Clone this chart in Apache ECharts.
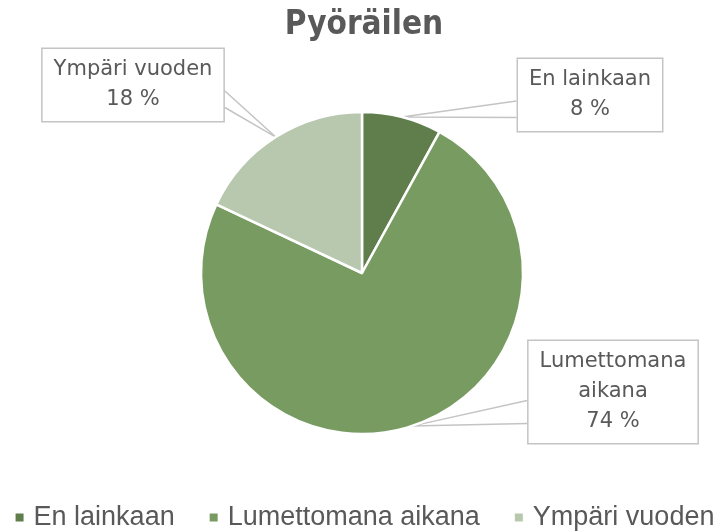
<!DOCTYPE html>
<html>
<head>
<meta charset="utf-8">
<script src="https://cdn.jsdelivr.net/npm/echarts@6/dist/echarts.min.js"></script>
<style>
  html, body { margin: 0; padding: 0; background: #fff; }
  #chart { width: 728px; height: 532px; }
</style>
</head>
<body>
<div id="chart"></div>
<script>
const categories = ["En lainkaan", "Lumettomana aikana", "Ympäri vuoden"];
const labelNames = ["En lainkaan", "Lumettomana\naikana", "Ympäri vuoden"];
const shares = [8, 74, 18];
const colors = ["#5f7e4b", "#789b62", "#b8c8ae"];

// where each callout box sits (box centre, px)
const calloutAt = [[590, 95], [613, 392], [133, 85]];

const chart = echarts.init(document.getElementById("chart"));

function calloutLayout(params) {
  const i = params.dataIndex;
  const [cx, cy] = calloutAt[i];
  const w = params.labelRect.width;
  const h = params.labelRect.height;
  const out = { x: cx, y: cy, align: "center", verticalAlign: "middle" };
  const pts = params.labelLinePoints;
  if (pts && pts.length) {
    const tip = pts[0];
    // wedge base on the side of the box facing the tip
    const sideX = tip[0] < cx ? cx - w / 2 : cx + w / 2;
    const y1 = cy + h * 0.08;
    const y2 = cy + h * 0.3;
    out.labelLinePoints = [[sideX, y1], tip, [sideX, y2]];
  }
  return out;
}

chart.setOption({
  animation: false,
  backgroundColor: "#fff",
  title: {
    text: "Pyöräilen",
    left: "center",
    top: 4,
    textStyle: {
      fontFamily: "DejaVu Sans Condensed",
      fontWeight: "bold",
      fontSize: 33,
      color: "#595959",
    },
  },
  legend: {
    data: categories,
    left: "center",
    top: 499,
    icon: "rect",
    itemWidth: 10,
    itemHeight: 10,
    itemGap: 33,
    textStyle: {
      fontFamily: "Liberation Sans",
      fontSize: 27,
      color: "#595959",
      padding: [0, 0, 0, 4],
    },
  },
  series: [
    {
      type: "pie",
      center: [362, 273],
      radius: 161,
      startAngle: 90,
      clockwise: true,
      itemStyle: { borderColor: "#fff", borderWidth: 2.5 },
      label: {
        show: true,
        position: "outside",
        formatter: (p) => labelNames[p.dataIndex] + "\n" + p.value + " %",
        fontFamily: "DejaVu Sans",
        fontSize: 21,
        lineHeight: 30,
        color: "#595959",
        backgroundColor: "#fff",
        borderColor: "#c4c4c4",
        borderWidth: 1.5,
        padding: [6, 11],
      },
      labelLine: {
        show: true,
        length: 20,
        length2: 10,
        lineStyle: { color: "#c4c4c4", width: 1.5 },
      },
      labelLayout: calloutLayout,
      data: categories.map((name, i) => ({
        name,
        value: shares[i],
        itemStyle: { color: colors[i] },
      })),
    },
  ],
});
</script>
</body>
</html>
